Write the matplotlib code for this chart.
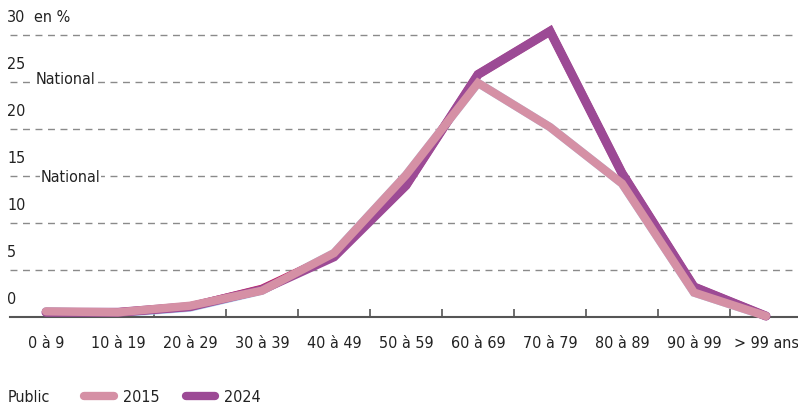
import matplotlib
matplotlib.use("Agg")
import matplotlib.pyplot as plt
from matplotlib.lines import Line2D

plt.rcParams['font.family'] = ['DejaVu Sans']
plt.rcParams['font.stretch'] = 'condensed'

categories = ["0 à 9", "10 à 19", "20 à 29", "30 à 39", "40 à 49", "50 à 59",
              "60 à 69", "70 à 79", "80 à 89", "90 à 99", "> 99 ans"]
public_2015 = [0.6, 0.5, 1.2, 2.8, 6.8, 15.1, 24.9, 20.2, 14.2, 2.6, 0.1]
public_2024 = [0.5, 0.5, 1.1, 2.9, 6.4, 14.0, 25.8, 30.4, 15.3, 3.2, 0.1]
national_2015 = [0.6, 0.4, 1.0, 2.8, 6.8, 15.1, 24.9, 20.2, 14.2, 2.6, 0.1]
national_2024 = [0.5, 0.5, 1.1, 3.0, 6.6, 14.0, 25.8, 30.4, 15.3, 3.2, 0.1]
yticks = [0, 5, 10, 15, 20, 25, 30]

c2015 = "#d590a5"
c2024 = "#9c4a95"
FS = 11.5

W, H = 798, 407
fig = plt.figure(figsize=(W / 100, H / 100), dpi=100)
left, right = 10, 798
bottom_px = 317
ppu = 9.4
ytop = 31
ax = fig.add_axes([left / W, 1 - bottom_px / H, (right - left) / W, ytop * ppu / H])

x = list(range(len(categories)))
ax.set_xlim(-0.5, (right - 46) / 72)
ax.set_ylim(0, ytop)

# grid lines
for v in yticks[1:]:
    ax.axhline(v, color="#8a8a8a", lw=1.0, ls=(0, (5, 4)), zorder=1)
for v in yticks:
    ax.annotate(str(v), xy=(0, v), xycoords=("axes fraction", "data"),
                xytext=(-2, 7), textcoords="offset points", ha="left", va="bottom",
                fontsize=FS, color="#222222")
ax.annotate("en %", xy=(0, 30), xycoords=("axes fraction", "data"),
            xytext=(17, 7), textcoords="offset points", ha="left", va="bottom",
            fontsize=FS, color="#222222")

ax.plot(x, national_2015, color="#a9d0ee", lw=6, solid_joinstyle="miter",
        solid_capstyle="round", zorder=2, clip_on=False)
ax.plot(x, national_2024, color="#c4185c", lw=6, solid_joinstyle="miter",
        solid_capstyle="round", zorder=2.5, clip_on=False)
ax.plot(x, public_2024, color=c2024, lw=6.5, solid_joinstyle="miter",
        solid_capstyle="round", zorder=3, clip_on=False)
ax.plot(x, public_2015, color=c2015, lw=6, solid_joinstyle="miter",
        solid_capstyle="round", zorder=4, clip_on=False)

fig.text(36 / W, 1 - 80 / H, "National", fontsize=FS, ha="left", va="center",
         color="#222222", bbox=dict(facecolor="white", edgecolor="none", pad=0.5), zorder=5)
fig.text(41 / W, 1 - 178 / H, "National", fontsize=FS, ha="left", va="center",
         color="#222222", bbox=dict(facecolor="white", edgecolor="none", pad=0.5), zorder=5)

for s in ["top", "right", "left"]:
    ax.spines[s].set_visible(False)
ax.spines["bottom"].set_color("#555555")
ax.spines["bottom"].set_linewidth(1.5)
ax.set_yticks([])
ax.set_xticks(x)
ax.set_xticklabels(categories, fontsize=FS, color="#222222")
ax.tick_params(axis="x", which="major", length=0, pad=14)
ax.set_xticks([i + 0.5 for i in range(len(categories) - 1)], minor=True)
ax.tick_params(axis="x", which="minor", direction="in", length=6, width=1.2, color="#555555")

# legend
fig.text(8 / W, 1 - 398 / H, "Public", fontsize=FS, ha="left", va="center", color="#222222")
fig.add_artist(Line2D([84 / W, 114 / W], [1 - 396 / H] * 2, color=c2015, lw=6,
                      solid_capstyle="round", transform=fig.transFigure))
fig.text(123 / W, 1 - 398 / H, "2015", fontsize=FS, ha="left", va="center", color="#222222")
fig.add_artist(Line2D([186 / W, 215 / W], [1 - 396 / H] * 2, color=c2024, lw=6,
                      solid_capstyle="round", transform=fig.transFigure))
fig.text(224 / W, 1 - 398 / H, "2024", fontsize=FS, ha="left", va="center", color="#222222")

fig.savefig("out.png", dpi=100)
